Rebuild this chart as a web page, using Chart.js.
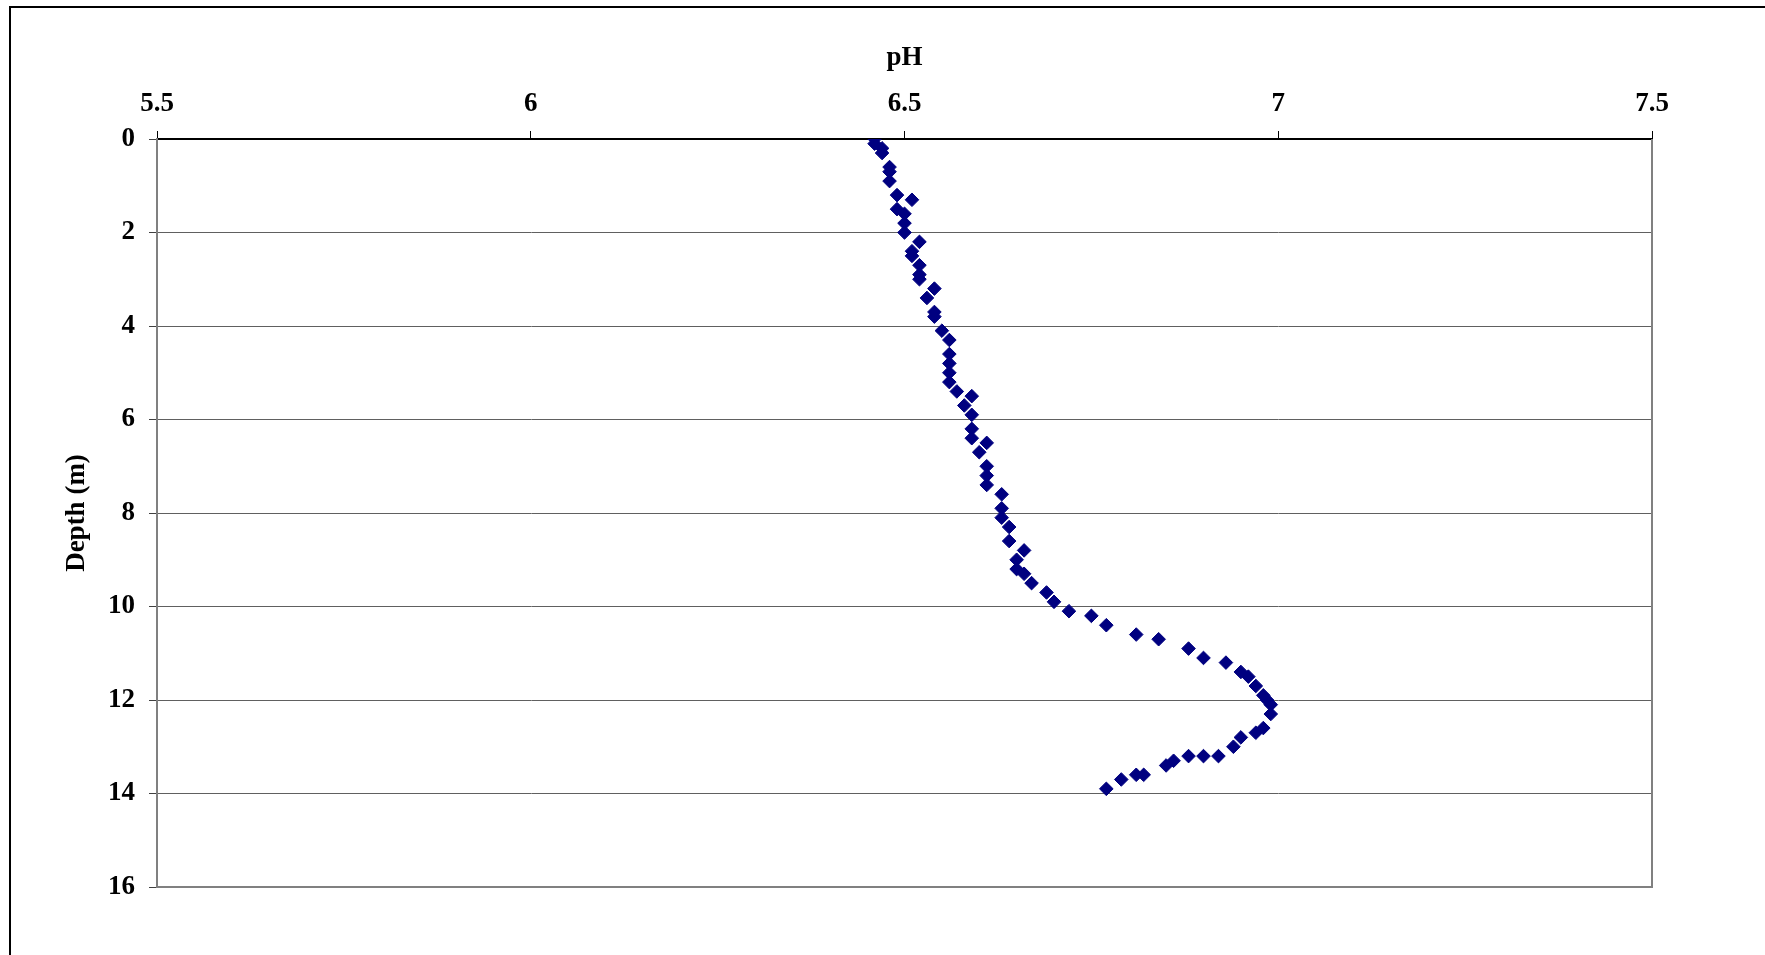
<!DOCTYPE html>
<html>
<head>
<meta charset="utf-8">
<script src="https://cdn.jsdelivr.net/npm/chart.js@4.4.1/dist/chart.umd.min.js"></script>
<style>
  html, body { margin: 0; padding: 0; background: #ffffff; overflow: hidden; }
  #wrap { position: relative; width: 1765px; height: 955px; }
  #frame { position: absolute; left: 9px; top: 6px; width: 3000px; height: 3000px;
           border-left: 2px solid #000; border-top: 2px solid #000; pointer-events: none; }
  canvas { position: absolute; left: 0; top: 0; }
</style>
</head>
<body>
<div id="wrap">
  <canvas id="c" width="1765" height="955"></canvas>
  <div id="frame"></div>
</div>
<script>
// Depth (m) of each sample
const depths = [
  0.0, 0.1, 0.2, 0.3, 0.6, 0.7, 0.9, 1.2, 1.3, 1.5,
  1.6, 1.8, 2.0, 2.2, 2.4, 2.5, 2.7, 2.9, 3.0, 3.2,
  3.4, 3.7, 3.8, 4.1, 4.3, 4.6, 4.8, 5.0, 5.2, 5.4,
  5.5, 5.7, 5.9, 6.2, 6.4, 6.5, 6.7, 7.0, 7.2, 7.4,
  7.6, 7.9, 8.1, 8.3, 8.6, 8.8, 9.0, 9.2, 9.3, 9.5,
  9.7, 9.9, 10.1, 10.2, 10.4, 10.6, 10.7, 10.9, 11.1, 11.2,
  11.4, 11.5, 11.7, 11.9, 12.0, 12.1, 12.3, 12.6, 12.7, 12.8,
  13.0, 13.2, 13.2, 13.2, 13.3, 13.4, 13.6, 13.6, 13.7, 13.9
];
// pH measured at each depth
const phValues = [
  6.46, 6.46, 6.47, 6.47, 6.48, 6.48, 6.48, 6.49, 6.51, 6.49,
  6.50, 6.50, 6.50, 6.52, 6.51, 6.51, 6.52, 6.52, 6.52, 6.54,
  6.53, 6.54, 6.54, 6.55, 6.56, 6.56, 6.56, 6.56, 6.56, 6.57,
  6.59, 6.58, 6.59, 6.59, 6.59, 6.61, 6.60, 6.61, 6.61, 6.61,
  6.63, 6.63, 6.63, 6.64, 6.64, 6.66, 6.65, 6.65, 6.66, 6.67,
  6.69, 6.70, 6.72, 6.75, 6.77, 6.81, 6.84, 6.88, 6.90, 6.93,
  6.95, 6.96, 6.97, 6.98, 6.985, 6.99, 6.99, 6.98, 6.97, 6.95,
  6.94, 6.92, 6.90, 6.88, 6.86, 6.85, 6.82, 6.81, 6.79, 6.77
];
const phTicks = [5.5, 6, 6.5, 7, 7.5];
const depthTicks = [0, 2, 4, 6, 8, 10, 12, 14, 16];

const points = depths.map((d, i) => ({ x: phValues[i], y: d }));

const FONT = { family: '"Liberation Serif", "Times New Roman", serif', size: 27, weight: 'bold' };

const plotFrame = {
  id: 'plotFrame',
  beforeDatasetsDraw(chart) {
    const { ctx, chartArea: a } = chart;
    ctx.save();
    ctx.strokeStyle = '#808080';
    ctx.lineWidth = 2;
    ctx.beginPath();
    ctx.moveTo(a.right, a.top);
    ctx.lineTo(a.right, a.bottom);
    ctx.lineTo(a.left, a.bottom);
    ctx.stroke();
    ctx.restore();
  }
};

new Chart(document.getElementById('c'), {
  type: 'scatter',
  data: {
    datasets: [{
      label: 'pH',
      data: points,
      pointStyle: 'rectRot',
      pointRadius: 6.8,
      pointHoverRadius: 6.8,
      backgroundColor: '#000080',
      borderColor: '#000080',
      borderWidth: 1
    }]
  },
  options: {
    responsive: false,
    animation: false,
    events: [],
    layout: { padding: { left: 0, top: 0, right: 113, bottom: 68 } },
    plugins: { legend: { display: false }, tooltip: { enabled: false } },
    scales: {
      x: {
        type: 'linear',
        position: 'top',
        min: 5.5, max: 7.5,
        afterBuildTicks(scale) { scale.ticks = phTicks.map(v => ({ value: v })); },
        afterFit(scale) { scale.height = 139; },
        ticks: { color: '#000', font: FONT, padding: 11, maxRotation: 0,
                 callback: v => String(v) },
        grid: { display: true, drawOnChartArea: false, drawTicks: true, tickLength: 8,
                tickColor: '#000', color: '#000' },
        border: { display: true, color: '#000', width: 2 },
        title: { display: true, text: 'pH', color: '#000', font: FONT,
                 padding: { top: 42, bottom: 0 } }
      },
      y: {
        type: 'linear',
        position: 'left',
        reverse: true,
        min: 0, max: 16,
        afterBuildTicks(scale) { scale.ticks = depthTicks.map(v => ({ value: v })); },
        afterFit(scale) { scale.width = 157; },
        ticks: { color: '#000', font: FONT, padding: 14, callback: v => String(v) },
        grid: { display: true, drawOnChartArea: true, drawTicks: true, tickLength: 8,
                color: '#606060', lineWidth: 1, tickColor: '#404040' },
        border: { display: true, color: '#808080', width: 2 },
        title: { display: true, text: 'Depth (m)', color: '#000', font: FONT,
                 padding: { top: 61, bottom: 0 } }
      }
    }
  },
  plugins: [plotFrame]
});
</script>
</body>
</html>
